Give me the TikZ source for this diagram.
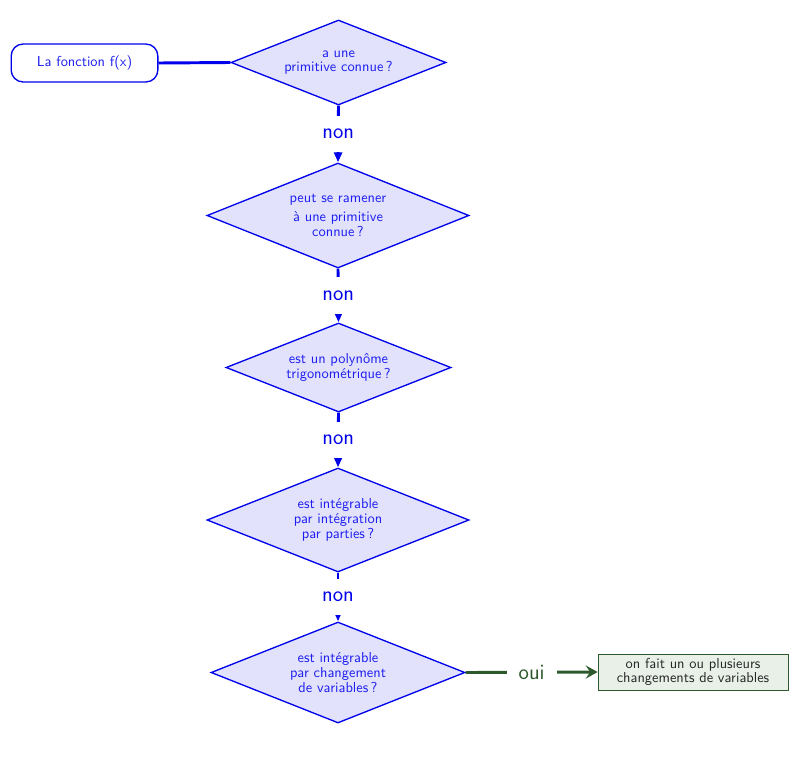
\documentclass[tikz,border=0pt]{standalone}
\usepackage{fontspec}
\usetikzlibrary{shapes.geometric,arrows.meta}
\definecolor{myblue}{RGB}{0,0,235}
\definecolor{mytext}{RGB}{30,30,240}
\definecolor{myfill}{RGB}{226,226,252}
\definecolor{mygreen}{RGB}{45,90,45}
\definecolor{gfill}{RGB}{232,240,232}
\begin{document}
\begin{tikzpicture}[x=0.75pt,y=-0.75pt,
  txt/.style={font=\sffamily\fontsize{10.8}{11}\selectfont},
  question/.style={diamond, draw=myblue, fill=myfill, text=mytext, line width=1pt, inner sep=0pt, aspect=2.5, align=center, txt},
  startbox/.style={rectangle, rounded corners=9pt, draw=myblue, fill=white, line width=1pt, text=mytext, minimum width=110pt, minimum height=28.5pt, txt},
  result/.style={rectangle, draw=mygreen, fill=gfill, text=black!85, line width=0.6pt, minimum width=142.5pt, minimum height=27pt, inner sep=1pt, align=center, txt},
  nolink/.style={draw=myblue, line width=2.2pt, -{Triangle[length=7.5pt,width=6pt]}},
  ouilink/.style={draw=mygreen, line width=2.2pt, -{Stealth[length=9pt,width=10pt,inset=3.5pt]}},
  lab/.style={fill=white, inner xsep=9pt, inner ysep=10pt, font=\sffamily\fontsize{16.5}{18}\selectfont}
]
\useasboundingbox (0,0) rectangle (795,778);

\node[startbox] (start) at (84.5,63) {La fonction f(x)};
\node[question, aspect=2.53, minimum width=161.25pt, minimum height=63.75pt] (d1) at (338.5,62.5) {a une\\primitive connue\,?};
\node[question, aspect=2.5, minimum width=196.5pt, minimum height=78.75pt] (d2) at (338,215.5) {peut se ramener\\[3pt]à une primitive\\connue\,?};
\node[question, aspect=2.53, minimum width=168.75pt, minimum height=66.75pt] (d3) at (338.5,367.5) {est un polynôme\\trigonométrique\,?};
\node[question, aspect=2.52, minimum width=196.5pt, minimum height=78pt] (d4) at (338,520) {est intégrable\\par intégration\\par parties\,?};
\node[question, aspect=2.51, minimum width=190.5pt, minimum height=75.75pt] (d5) at (338,672.5) {est intégrable\\par changement\\de variables\,?};
\node[result] (res) at (693,672) {on fait un ou plusieurs\\changements de variables};

\draw[myblue, line width=2.2pt] (start.east) -- (d1.west);
\draw[nolink] (d1.south) -- node[lab, text=myblue] {non} (d2.north);
\draw[nolink] (d2.south) -- node[lab, text=myblue] {non} (d3.north);
\draw[nolink] (d3.south) -- node[lab, text=myblue] {non} (d4.north);
\draw[nolink] (d4.south) -- node[lab, text=myblue] {non} (d5.north);
\draw[ouilink] (d5.east) -- node[lab, text=mygreen] {oui} (res.west);
\end{tikzpicture}
\end{document}
